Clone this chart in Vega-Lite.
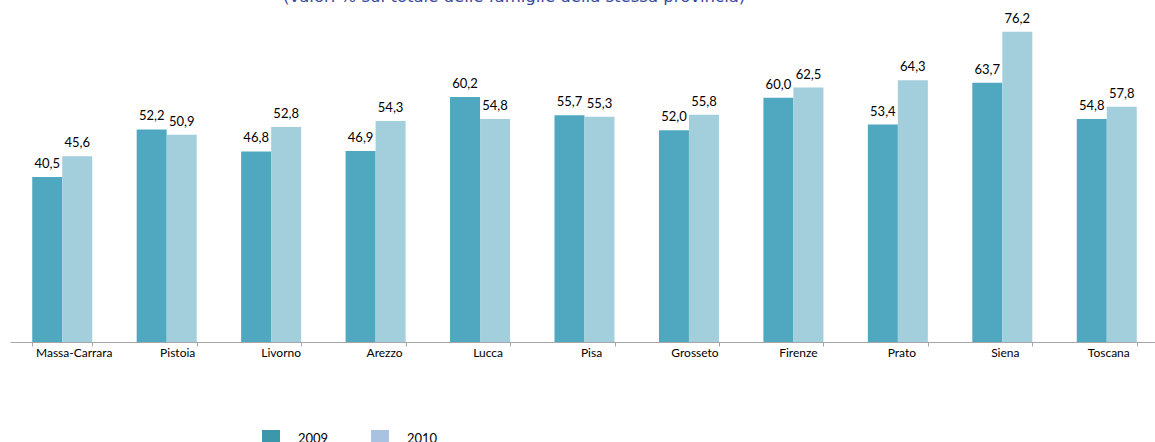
{
  "$schema": "https://vega.github.io/schema/vega-lite/v6.json",
  "width": 1149,
  "height": 342,
  "autosize": "none",
  "padding": {"left": 10, "top": 0, "right": 0, "bottom": 100},
  "config": {
    "view": {"stroke": null},
    "font": "Lato",
    "locale": {"number": {"decimal": ",", "thousands": ".", "grouping": [3], "currency": ["", " €"]}}
  },
  "title": {
    "text": "(valori % sul totale delle famiglie della stessa provincia)",
    "font": "DejaVu Sans",
    "fontSize": 16.5,
    "fontWeight": "normal",
    "color": "#37479B",
    "anchor": "start",
    "frame": "group",
    "offset": -18,
    "baseline": "alphabetic",
    "dx": 273
  },
  "data": {
    "values": [
      {"provincia": "Massa-Carrara", "anno": "2009", "valore": 40.5},
      {"provincia": "Massa-Carrara", "anno": "2010", "valore": 45.6},
      {"provincia": "Pistoia", "anno": "2009", "valore": 52.2},
      {"provincia": "Pistoia", "anno": "2010", "valore": 50.9},
      {"provincia": "Livorno", "anno": "2009", "valore": 46.8},
      {"provincia": "Livorno", "anno": "2010", "valore": 52.8},
      {"provincia": "Arezzo", "anno": "2009", "valore": 46.9},
      {"provincia": "Arezzo", "anno": "2010", "valore": 54.3},
      {"provincia": "Lucca", "anno": "2009", "valore": 60.2},
      {"provincia": "Lucca", "anno": "2010", "valore": 54.8},
      {"provincia": "Pisa", "anno": "2009", "valore": 55.7},
      {"provincia": "Pisa", "anno": "2010", "valore": 55.3},
      {"provincia": "Grosseto", "anno": "2009", "valore": 52.0},
      {"provincia": "Grosseto", "anno": "2010", "valore": 55.8},
      {"provincia": "Firenze", "anno": "2009", "valore": 60.0},
      {"provincia": "Firenze", "anno": "2010", "valore": 62.5},
      {"provincia": "Prato", "anno": "2009", "valore": 53.4},
      {"provincia": "Prato", "anno": "2010", "valore": 64.3},
      {"provincia": "Siena", "anno": "2009", "valore": 63.7},
      {"provincia": "Siena", "anno": "2010", "valore": 76.2},
      {"provincia": "Toscana", "anno": "2009", "valore": 54.8},
      {"provincia": "Toscana", "anno": "2010", "valore": 57.8}
    ]
  },
  "encoding": {
    "x": {
      "field": "provincia",
      "type": "nominal",
      "sort": null,
      "scale": {"paddingInner": 0.4255, "paddingOuter": 0.2128},
      "axis": {
        "title": null,
        "labelAngle": 0,
        "tickBand": "extent",
        "ticks": true,
        "tickSize": 4,
        "tickColor": "#A6A6A6",
        "domainColor": "#A6A6A6",
        "labelFont": "Lato",
        "labelFontSize": 12,
        "labelColor": "#000000",
        "labelPadding": 1,
        "labelOffset": {"expr": "11.5 - 10 * datum.index"}
      }
    },
    "xOffset": {"field": "anno", "type": "nominal", "scale": {"paddingInner": 0, "paddingOuter": 0}},
    "y": {"field": "valore", "type": "quantitative", "scale": {"domain": [0, 84]}, "axis": null}
  },
  "layer": [
    {
      "mark": {"type": "bar"},
      "encoding": {
        "color": {"field": "anno", "type": "nominal", "scale": {"range": ["#4FA8BF", "#A3CFDD"]}, "legend": null}
      }
    },
    {
      "mark": {"type": "text", "baseline": "alphabetic", "dy": -9, "fontSize": 13, "color": "#000000"},
      "encoding": {
        "text": {"field": "valore", "type": "quantitative", "format": ".1f"}
      }
    },
    {
      "mark": {"type": "square", "opacity": 0, "size": 0},
      "encoding": {
        "color": {
          "field": "anno",
          "type": "nominal",
          "scale": {"range": ["#3C97AA", "#A8C2DF"]},
          "legend": {
            "orient": "none",
            "legendX": 252,
            "legendY": 430,
            "direction": "horizontal",
            "title": null,
            "symbolType": "square",
            "symbolSize": 324,
            "symbolOpacity": 1,
            "symbolStrokeWidth": 0,
            "labelOffset": 18,
            "columnPadding": 42,
            "labelFont": "Lato",
            "labelFontSize": 13,
            "labelColor": "#000000"
          }
        }
      }
    }
  ],
  "resolve": {"scale": {"color": "independent"}}
}
